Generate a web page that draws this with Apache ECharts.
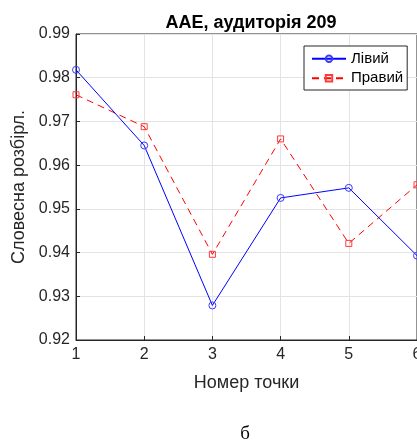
<!DOCTYPE html>
<html><head><meta charset="utf-8">
<script src="https://cdn.jsdelivr.net/npm/echarts@6/dist/echarts.min.js"></script>
<style>html,body{margin:0;padding:0;background:#fff}#c{width:417px;height:442px}</style>
</head><body><div id="c"></div>
<script>
const points = [1, 2, 3, 4, 5, 6];
const leftVals = [0.9818, 0.9645, 0.9279, 0.9525, 0.9548, 0.9393];
const rightVals = [0.9761, 0.9688, 0.9396, 0.9660, 0.9421, 0.9555];
const seriesNames = ['Лівий', 'Правий'];
const titleText = 'AAE, аудиторія 209';
const xName = 'Номер точки';
const yName = 'Словесна розбірл.';
const caption = 'б';

const chart = echarts.init(document.getElementById('c'), null, {renderer: 'canvas'});
const font = 'Liberation Sans, Arial, sans-serif';
const axisColor = '#262626';
chart.setOption({
  animation: false,
  backgroundColor: '#fff',
  title: [{
    text: titleText, left: 246, top: 9, textAlign: 'center',
    textStyle: {fontFamily: font, fontSize: 18, fontWeight: 'bold', color: '#000'}
  }, {
    text: caption, left: 240, top: 420, textAlign: 'center',
    textStyle: {fontFamily: 'Liberation Serif, Times New Roman, serif', fontSize: 19, fontWeight: 'normal', color: '#000'}
  }],
  grid: {left: 76, top: 34, right: 0, bottom: 102, show: true, borderColor: axisColor, borderWidth: 1,
    containLabel: false, outerBoundsMode: 'none'},
  legend: {
    left: 304, top: 46, orient: 'vertical', itemGap: 2,
    padding: [4, 4, 3, 7],
    borderColor: axisColor, borderWidth: 1, backgroundColor: '#fff',
    itemWidth: 34, itemHeight: 8,
    textStyle: {fontFamily: font, fontSize: 15, color: '#000', lineHeight: 17.5},
    data: seriesNames
  },
  xAxis: {
    type: 'value', min: 1, max: 6, interval: 1,
    name: xName, nameLocation: 'middle', nameGap: 34,
    nameTextStyle: {fontFamily: font, fontSize: 18, color: axisColor},
    axisLine: {show: true, onZero: false, lineStyle: {color: axisColor}},
    axisTick: {show: true, inside: true, length: 4, lineStyle: {color: axisColor}},
    axisLabel: {fontFamily: font, fontSize: 16, color: axisColor, margin: 7},
    splitLine: {show: true, lineStyle: {color: '#e3e3e3'}}
  },
  yAxis: {
    type: 'value', min: 0.92, max: 0.99, interval: 0.01,
    name: yName, nameLocation: 'middle', nameGap: 41,
    nameTextStyle: {fontFamily: font, fontSize: 18, color: axisColor},
    axisLine: {show: true, onZero: false, lineStyle: {color: axisColor}},
    axisTick: {show: true, inside: true, length: 4, lineStyle: {color: axisColor}},
    axisLabel: {fontFamily: font, fontSize: 16, color: axisColor, margin: 6,
      formatter: v => v.toFixed(2)},
    splitLine: {show: true, lineStyle: {color: '#e3e3e3'}}
  },
  series: [{
    name: seriesNames[0], type: 'line',
    data: points.map((p, i) => [p, leftVals[i]]),
    symbol: 'circle', symbolSize: 7,
    lineStyle: {color: '#0000ff', width: 1},
    itemStyle: {color: 'rgba(0,0,0,0)', borderColor: '#3a3aff', borderWidth: 1},
    z: 3
  }, {
    name: seriesNames[1], type: 'line',
    data: points.map((p, i) => [p, rightVals[i]]),
    symbol: 'rect', symbolSize: 6,
    lineStyle: {color: '#ff0000', width: 1, type: [7, 5]},
    itemStyle: {color: 'rgba(0,0,0,0)', borderColor: '#ff3a3a', borderWidth: 1},
    z: 2
  }]
});
</script></body></html>
